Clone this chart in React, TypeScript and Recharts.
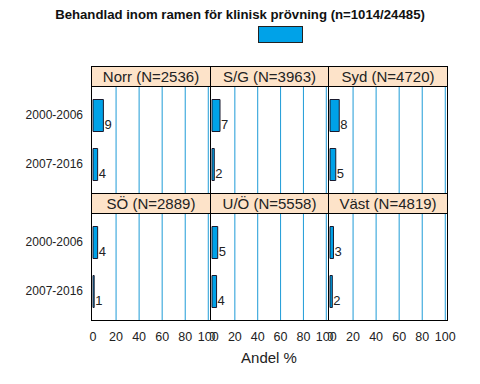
import { BarChart, Bar, XAxis, YAxis, ReferenceLine, LabelList } from "recharts";

const regions = ["Norr (N=2536)", "S/G (N=3963)", "Syd (N=4720)", "SÖ (N=2889)", "U/Ö (N=5558)", "Väst (N=4819)"];
const periods = ["2000-2006", "2007-2016"];
const share2000 = [9, 7, 8, 4, 5, 3];
const share2007 = [4, 2, 5, 1, 4, 2];
const xTicks = [0, 20, 40, 60, 80, 100];
const gridValues = [20, 40, 60, 80, 100];

const FONT = "'Liberation Sans', Arial, sans-serif";
const BLUE = "#00a2e8";
const GRID = "#1e9bd7";
const STRIP = "#fde3c9";

// panel frame positions
const colX = [91, 210, 328, 447];
const rowY = [66, 193];
const STRIP_H = 20;
const BODY_H = 107;
const AXIS_H = 30;
const EXTRA_R = 14; // room so the "100" tick label isn't clipped

function ValueLabel(props: any) {
  const { x, y, width, height, value } = props;
  return (
    <text x={x + width + 1} y={y + height - 2.5} fontSize={13} fill="#222" fontFamily={FONT}>
      {value}
    </text>
  );
}

function Panel({ k }: { k: number }) {
  const col = k % 3;
  const row = Math.floor(k / 3);
  const left = colX[col];
  const right = colX[col + 1];
  const chartLeft = col === 0 ? 0 : left;
  const bodyTop = rowY[row] + STRIP_H;
  const data = periods.map((p, i) => ({ period: p, value: i === 0 ? share2000[k] : share2007[k] }));

  return (
    <div style={{ position: "absolute", left: chartLeft, top: bodyTop }}>
      <BarChart
        layout="vertical"
        width={right - chartLeft + EXTRA_R}
        height={BODY_H + (row === 1 ? AXIS_H : 0)}
        data={data}
        margin={{ top: 0, right: EXTRA_R, bottom: 0, left: 0 }}
      >
        <XAxis
          type="number"
          domain={[-1.75, 101.5]}
          ticks={xTicks}
          interval={0}
          allowDataOverflow
          hide={row === 0}
          height={AXIS_H}
          axisLine={false}
          tickLine={false}
          tickMargin={6}
          tick={{ fontSize: 12.5, fill: "#222", fontFamily: FONT }}
        />
        <YAxis
          type="category"
          dataKey="period"
          hide={col !== 0}
          width={col === 0 ? left : 0}
          padding={{ top: 4.5, bottom: 4.5 }}
          axisLine={false}
          tickLine={false}
          tick={{ fontSize: 12, fill: "#222", fontFamily: FONT }}
        />
        {gridValues.map((v) => (
          <ReferenceLine key={v} x={v} stroke={GRID} strokeWidth={1} />
        ))}
        <Bar dataKey="value" fill={BLUE} stroke="#1a1a2e" strokeWidth={1} barSize={32} isAnimationActive={false}>
          <LabelList dataKey="value" content={ValueLabel} />
        </Bar>
      </BarChart>
    </div>
  );
}

function Frame({ k }: { k: number }) {
  const col = k % 3;
  const row = Math.floor(k / 3);
  const left = colX[col];
  const top = rowY[row];
  return (
    <div
      style={{
        position: "absolute",
        left,
        top,
        width: colX[col + 1] - left + 1,
        height: STRIP_H + BODY_H + 1,
        border: "1px solid #000",
        boxSizing: "border-box",
        pointerEvents: "none",
      }}
    >
      <div
        style={{
          height: STRIP_H,
          background: STRIP,
          borderBottom: "1px solid #000",
          boxSizing: "border-box",
          textAlign: "center",
          fontFamily: FONT,
          fontSize: 15,
          lineHeight: `${STRIP_H - 1}px`,
          color: "#222",
          whiteSpace: "nowrap",
        }}
      >
        {regions[k]}
      </div>
    </div>
  );
}

export default function App() {
  return (
    <div style={{ position: "absolute", left: 0, top: 0, width: 480, height: 384, background: "#fff", fontFamily: FONT }}>
      <div
        style={{
          position: "absolute",
          top: 7,
          left: 0,
          width: 480,
          textAlign: "center",
          fontWeight: "bold",
          fontSize: 13.2,
          color: "#111",
        }}
      >
        Behandlad inom ramen för klinisk prövning (n=1014/24485)
      </div>
      <div
        style={{
          position: "absolute",
          left: 258,
          top: 26,
          width: 45,
          height: 17,
          background: BLUE,
          border: "1px solid #222",
          boxSizing: "border-box",
        }}
      />
      {regions.map((_, k) => (
        <Panel key={k} k={k} />
      ))}
      {regions.map((_, k) => (
        <Frame key={k} k={k} />
      ))}
      <div style={{ position: "absolute", top: 349, left: 91, width: 356, textAlign: "center", fontSize: 15, color: "#222" }}>
        Andel %
      </div>
    </div>
  );
}
